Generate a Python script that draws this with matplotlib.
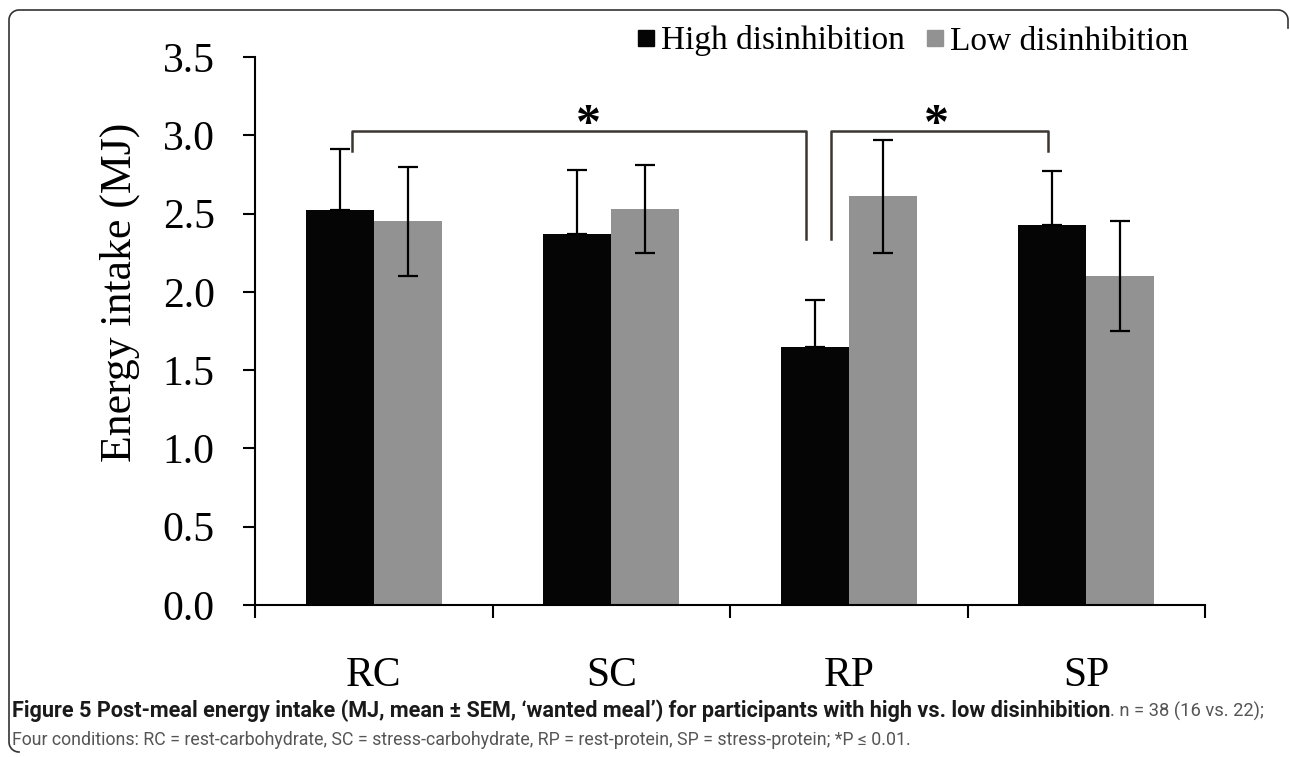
import numpy as np
import matplotlib
matplotlib.use("Agg")
import matplotlib.pyplot as plt
from matplotlib.lines import Line2D

# data
conditions = ["RC", "SC", "RP", "SP"]
high = [2.52, 2.37, 1.65, 2.43]
high_err = [0.39, 0.41, 0.30, 0.34]
low = [2.45, 2.53, 2.61, 2.10]
low_err = [0.35, 0.28, 0.36, 0.35]
series_names = ["High disinhibition", "Low disinhibition"]
yticks = [0.0, 0.5, 1.0, 1.5, 2.0, 2.5, 3.0, 3.5]

# significance brackets: (x left, x right, left foot, right foot, top)
brackets = [(-0.093, 1.822, 2.90, 2.337, 3.027),
            (1.924, 2.838, 2.337, 2.90, 3.027)]
stars = [0.902, 2.369]

W, H = 1290, 757
fig = plt.figure(figsize=(W / 100, H / 100), dpi=100)
ax = fig.add_axes([255 / W, 152 / H, 950 / W, 548 / H])

serif = "Liberation Serif"
x = np.arange(len(conditions))
w = 0.2857
ekw = dict(ecolor="black", elinewidth=1.6, capsize=7, capthick=1.6)
# black bars only show the upper half of the error bar
ax.bar(x - w / 2, high, w, color="#050505",
       yerr=[np.zeros(len(high)), high_err], error_kw=ekw)
ax.bar(x + w / 2, low, w, color="#929292", yerr=low_err, error_kw=ekw)

for xl, xr, yl, yr, top in brackets:
    ax.plot([xl, xl, xr, xr], [yl, top, top, yr], color="#3b3631", lw=1.8)
for sx in stars:
    ax.text(sx, 2.985, "*", fontsize=36, ha="center", va="baseline",
            family=serif, fontweight="bold")

ax.set_xlim(-0.5, 3.5)
ax.set_ylim(0, 3.5)
for s in ["top", "right"]:
    ax.spines[s].set_visible(False)
for s in ["left", "bottom"]:
    ax.spines[s].set_linewidth(1.5)

ax.set_yticks(yticks)
ax.set_yticklabels([f"{v:.1f}" for v in yticks], family=serif, fontsize=30)
ax.tick_params(axis="y", direction="out", length=9, width=1.5, pad=20)

ax.set_xticks(x)
ax.set_xticklabels(conditions, family=serif, fontsize=30)
ax.tick_params(axis="x", which="major", length=0, pad=37)
ax.set_xticks(np.arange(-0.5, 4, 1), minor=True)
ax.tick_params(axis="x", which="minor", direction="out", length=9, width=1.5)

ax.set_ylabel("Energy intake (MJ)", family=serif, fontsize=31.5)
ax.yaxis.set_label_coords(-0.121, 0.571)

handles = [Line2D([], [], marker="s", ls="none", color=c, markersize=11)
           for c in ["#050505", "#929292"]]
fig.legend(handles, series_names, loc="center right", ncol=2,
           bbox_to_anchor=(1188 / W, 1 - 41 / H), frameon=False,
           prop=dict(family=serif, size=24), handletextpad=0.15,
           columnspacing=0.6, handlelength=0.6, borderaxespad=0,
           borderpad=0)

# rounded frame around the figure (left, top, corners)
def arc(cx, cy, r, a0, a1):
    t = np.radians(np.linspace(a0, a1, 20))
    return cx + r * np.cos(t), cy + r * np.sin(t)

r = 10
px, py = [], []
for seg in [arc(9 + r, 752 - r, r, 90, 180), arc(9 + r, 10 + r, r, 180, 270),
            arc(1288 - r, 10 + r, r, 270, 360)]:
    px.extend(seg[0]); py.extend(seg[1])
px.append(1288); py.append(28)
fig.add_artist(Line2D(np.array(px) / W, 1 - np.array(py) / H,
                      transform=fig.transFigure, color="#333333", lw=1.2))

# caption
cap_font = ["Roboto", "Open Sans", "DejaVu Sans"]
renderer = fig.canvas.get_renderer()
t1 = fig.text(12 / W, 1 - 711 / H,
              "Figure 5 Post-meal energy intake (MJ, mean \u00b1 SEM, "
              "\u2018wanted meal\u2019) for participants with high vs. low disinhibition",
              family=cap_font, fontsize=15.6, fontweight="bold", color="#1a1a1a",
              va="center")
bb = t1.get_window_extent(renderer)
fig.text(bb.x1 / W, 1 - 711 / H, ". n = 38 (16 vs. 22);", family=cap_font,
         fontsize=13.2, color="#555555", va="center")
fig.text(12 / W, 1 - 740 / H,
         "Four conditions: RC = rest-carbohydrate, SC = stress-carbohydrate, "
         "RP = rest-protein, SP = stress-protein; *P \u2264 0.01.",
         family=cap_font, fontsize=12.8, color="#555555", va="center")

fig.savefig("out.png", dpi=100)
